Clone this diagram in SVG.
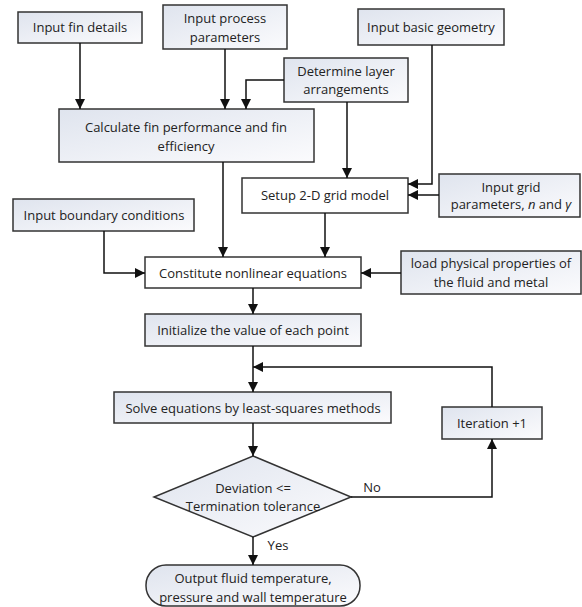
<svg xmlns="http://www.w3.org/2000/svg" width="582" height="607" viewBox="0 0 582 607">
<defs>
<linearGradient id="g" x1="0" y1="0" x2="1" y2="1">
<stop offset="0" stop-color="#dfe4ee"/>
<stop offset="1" stop-color="#fbfbfd"/>
</linearGradient>
<marker id="a" viewBox="0 0 10 10" refX="10" refY="5" markerWidth="10" markerHeight="10" markerUnits="userSpaceOnUse" orient="auto">
<path d="M0,0 L10,5 L0,10 z" fill="#111"/>
</marker>
</defs>
<style>
.b{fill:url(#g);stroke:#333;stroke-width:1.5}
.w{fill:#fff;stroke:#333;stroke-width:1.5}
text{font-family:"Open Sans","Liberation Sans",Arial,sans-serif;font-size:13px;fill:#222;text-anchor:middle}
.c{fill:none;stroke:#111;stroke-width:1.5}
</style>
<rect width="582" height="607" fill="#fff"/>
<g id="n1"><rect class="b" x="18" y="12" width="124" height="31"/><text x="80" y="32">Input fin details</text></g>
<g id="n2"><rect class="b" x="163" y="5" width="124" height="44"/><text x="225" y="23">Input process</text><text x="225" y="42">parameters</text></g>
<g id="n3"><rect class="b" x="358" y="9" width="146" height="36"/><text x="431" y="32">Input basic geometry</text></g>
<g id="n4"><rect class="b" x="284" y="58" width="124" height="44"/><text x="346" y="76">Determine layer</text><text x="346" y="94">arrangements</text></g>
<g id="n5"><rect class="b" x="59" y="109" width="255" height="53"/><text x="186" y="132">Calculate fin performance and fin</text><text x="186" y="151">efficiency</text></g>
<g id="n6"><rect class="w" x="242" y="178" width="166" height="35"/><text x="325" y="200">Setup 2-D grid model</text></g>
<g id="n7"><rect class="b" x="439" y="174" width="141" height="43"/><text x="511" y="192">Input grid</text><text x="511" y="209">parameters, <tspan font-style="italic">n</tspan> and <tspan font-style="italic">γ</tspan></text></g>
<g id="n8"><rect class="b" x="13" y="199" width="181" height="32"/><text x="104" y="220">Input boundary conditions</text></g>
<g id="n9"><rect class="w" x="145" y="257" width="216" height="31"/><text x="253" y="278">Constitute nonlinear equations</text></g>
<g id="n10"><rect class="b" x="401" y="251" width="180" height="43"/><text x="491" y="268">load physical properties of</text><text x="491" y="287">the fluid and metal</text></g>
<g id="n11"><rect class="b" x="145" y="314" width="216" height="32"/><text x="253" y="335">Initialize the value of each point</text></g>
<g id="n12"><rect class="b" x="114" y="392" width="277" height="31"/><text x="253" y="413">Solve equations by least-squares methods</text></g>
<g id="n13"><rect class="b" x="442" y="407" width="100" height="32"/><text x="492" y="428">Iteration +1</text></g>
<g id="n14"><polygon class="b" points="253,456 351,497 253,537 154,497"/><text x="253" y="493">Deviation &lt;=</text><text x="253" y="511">Termination tolerance</text></g>
<g id="n15"><rect class="b" x="146" y="565" width="214" height="41" rx="20" ry="20"/><text x="253" y="583">Output fluid temperature,</text><text x="253" y="602">pressure and wall temperature</text></g>
<g id="connectors">
<path class="c" d="M80,43 V109" marker-end="url(#a)"/>
<path class="c" d="M225,49 V109" marker-end="url(#a)"/>
<path class="c" d="M284,80 H246 V109" marker-end="url(#a)"/>
<path class="c" d="M347,102 V178" marker-end="url(#a)"/>
<path class="c" d="M432,45 V184 H408" marker-end="url(#a)"/>
<path class="c" d="M439,195 H408" marker-end="url(#a)"/>
<path class="c" d="M223,162 V257" marker-end="url(#a)"/>
<path class="c" d="M325,213 V257" marker-end="url(#a)"/>
<path class="c" d="M104,231 V273 H145" marker-end="url(#a)"/>
<path class="c" d="M401,273 H361" marker-end="url(#a)"/>
<path class="c" d="M253,288 V314" marker-end="url(#a)"/>
<path class="c" d="M253,346 V392" marker-end="url(#a)"/>
<path class="c" d="M492,407 V367 H253" marker-end="url(#a)"/>
<path class="c" d="M253,423 V456" marker-end="url(#a)"/>
<path class="c" d="M351,497 H492 V439" marker-end="url(#a)"/>
<path class="c" d="M253,537 V565" marker-end="url(#a)"/>
<text x="372" y="492">No</text>
<text x="278" y="550">Yes</text>
</g>
</svg>
